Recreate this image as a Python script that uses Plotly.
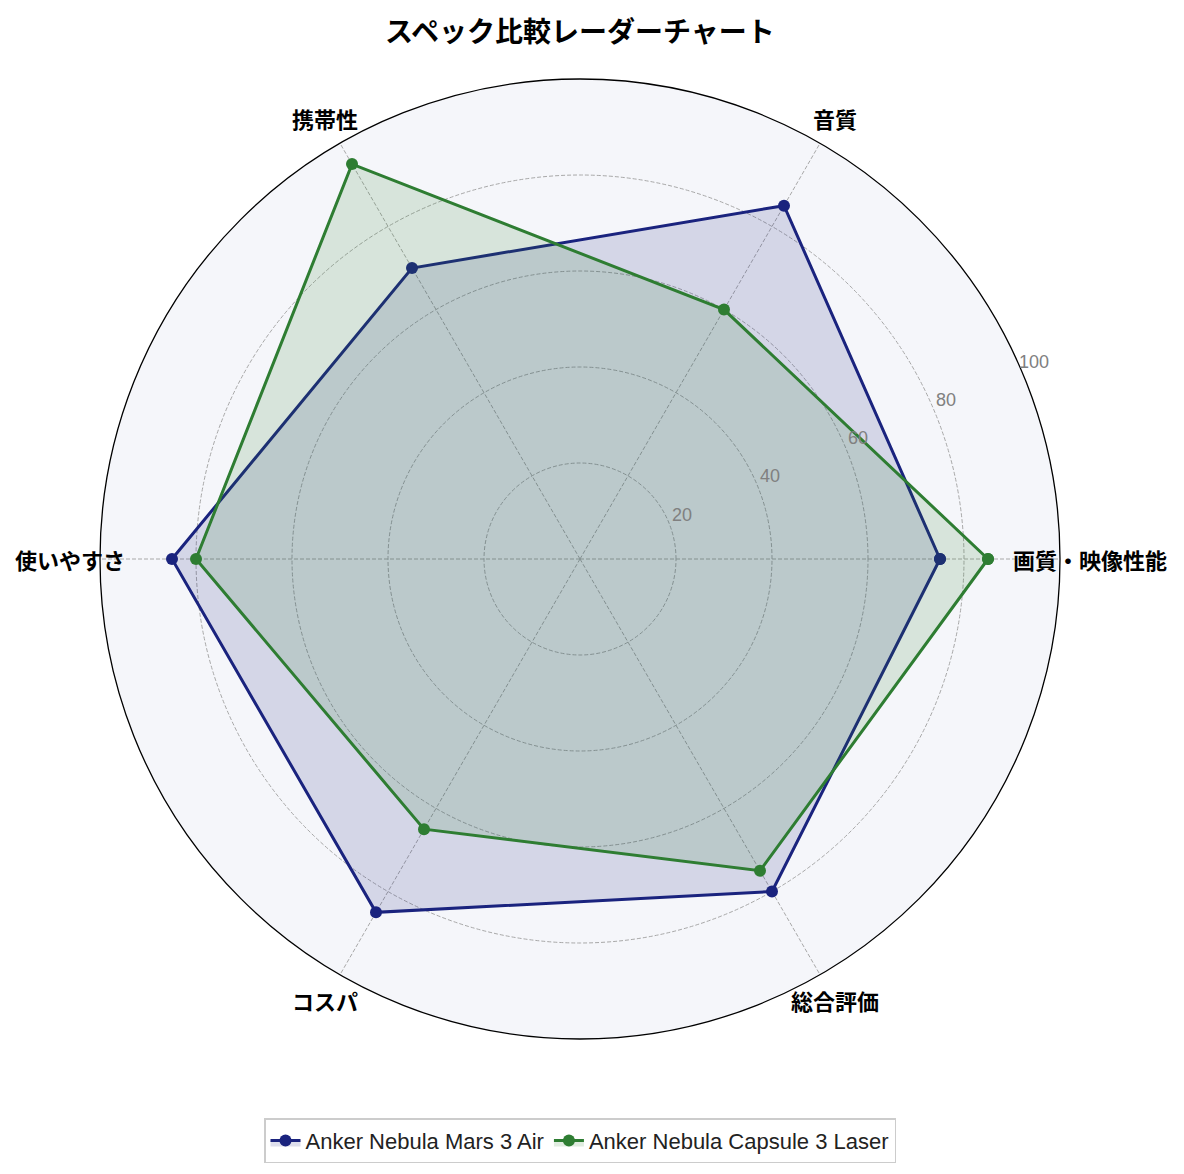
import math
import plotly.graph_objects as go

# categories / scores
categories = ['画質・映像性能', '音質', '携帯性', '使いやすさ', 'コスパ', '総合評価']
mars3_air = [75, 85, 70, 85, 85, 80]
capsule3_laser = [85, 60, 95, 80, 65, 75]
radial_ticks = [20, 40, 60, 80, 100]

series = [
    ('Anker Nebula Mars 3 Air', mars3_air, '#1a237e', 'rgba(26,35,126,0.15)'),
    ('Anker Nebula Capsule 3 Laser', capsule3_laser, '#2e7d32', 'rgba(46,125,50,0.15)'),
]

JP = 'Noto Sans CJK JP'
R_PX = 480.0  # radius of the polar circle in px (domain is 960 px square)

fig = go.Figure()
for name, vals, col, fillcol in series:
    fig.add_trace(go.Scatterpolar(
        r=vals + vals[:1], theta=categories + categories[:1],
        name=name, mode='lines+markers', fill='toself', fillcolor=fillcol,
        line=dict(color=col, width=3), marker=dict(color=col, size=12),
    ))

# category labels just outside the outer ring (matplotlib style, centred)
for i, cat in enumerate(categories):
    a = math.radians(360 * i / len(categories))
    fig.add_annotation(text='<b>%s</b>' % cat, xref='paper', yref='paper',
                       x=0.5 + 0.531 * math.cos(a), y=0.5 + 0.531 * math.sin(a),
                       showarrow=False, xanchor='center', yanchor='middle',
                       font=dict(size=22, family=JP, color='black'))

# upright radial tick labels near the 22.5 deg spoke
for v in radial_ticks:
    rr = (v / 100 * R_PX + 15) / (2 * R_PX)
    a = math.radians(23.5)
    fig.add_annotation(text=str(v), xref='paper', yref='paper',
                       x=0.5 + rr * math.cos(a), y=0.5 + rr * math.sin(a),
                       showarrow=False, xanchor='center', yanchor='middle',
                       font=dict(size=18, family='Liberation Sans', color='#808080'))

fig.update_layout(
    width=1184, height=1174,
    margin=dict(l=92, r=132, t=71, b=143),
    paper_bgcolor='white',
    font=dict(family=JP, color='black'),
    title=dict(text='<b>スペック比較レーダーチャート</b>', x=0.483, xanchor='center',
               y=0.979, yanchor='middle', font=dict(size=28, family=JP, color='black')),
    polar=dict(
        bgcolor='#f5f6fa',
        radialaxis=dict(range=[0, 100], tickvals=radial_ticks, angle=22.5,
                        showline=False, ticks='', showticklabels=False,
                        gridcolor='#a8a8a8', griddash='4px,2px', gridwidth=0.7),
        angularaxis=dict(direction='counterclockwise', rotation=0,
                         showline=True, linecolor='black', linewidth=1.3, ticks='',
                         showticklabels=False,
                         gridcolor='#a8a8a8', griddash='4px,2px', gridwidth=0.7),
    ),
    legend=dict(orientation='h', x=0.5, xanchor='center', y=-0.106, yanchor='middle',
                bordercolor='#cccccc', borderwidth=1.5,
                font=dict(size=22, family='Liberation Sans', color='#222222'),
                bgcolor='white'),
)

fig.write_html('out.html')
